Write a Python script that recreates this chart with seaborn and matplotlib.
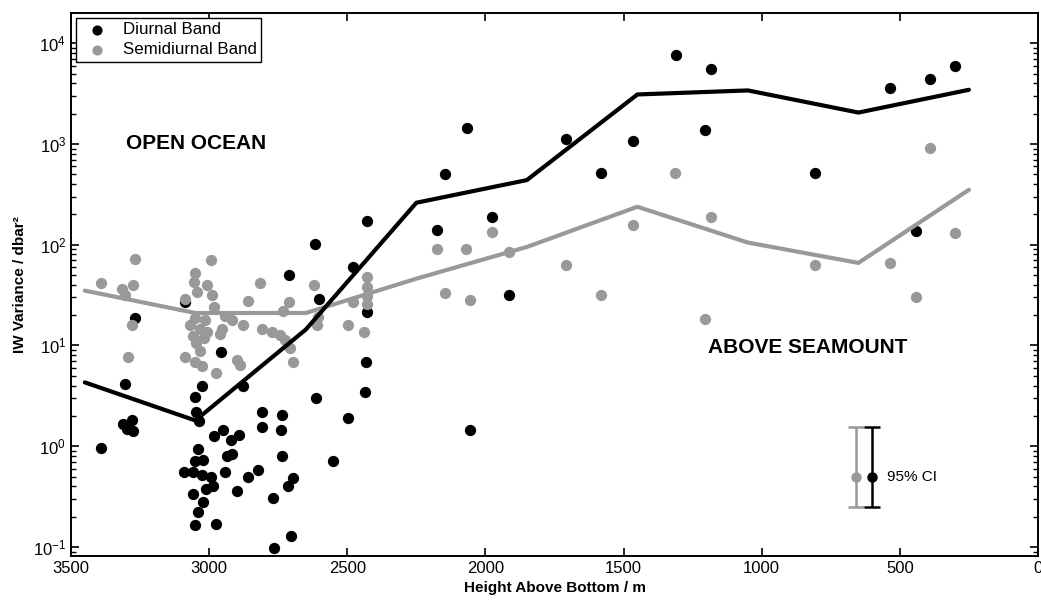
import matplotlib
matplotlib.use("Agg")
import matplotlib.pyplot as plt
import matplotlib.ticker as mticker
import seaborn as sns
import pandas as pd

# Diurnal band variance vs. height above bottom
diurnal_height = [3392, 3312, 3279, 3298, 3276, 3305, 3269, 3088, 3052, 3048,
                  3037, 3027, 2958, 2878, 2983, 2950, 2893, 2922, 3041, 2936,
                  2918, 3052, 3023, 3092, 3059, 3027, 2994, 2943, 2860, 2824,
                  2987, 3012, 3059, 2900, 3023, 3041, 3052, 2976, 2810, 2810,
                  2737, 2741, 2737, 2697, 2715, 2770, 2705, 2766, 2712, 2618,
                  2603, 2614, 2480, 2499, 2553, 2430, 2430, 2434, 2437, 2177,
                  2148, 2068, 1978, 1913, 2057, 1707, 1580, 1465, 1309, 1183,
                  1204, 807, 535, 391, 300, 441]
diurnal_var = [0.95, 1.65, 1.8, 1.47, 1.4, 4.1, 18.9, 26.7, 3.1, 2.17,
               1.77, 3.93, 8.7, 3.93, 1.26, 1.44, 1.28, 1.15, 0.93, 0.80,
               0.83, 0.71, 0.73, 0.55, 0.56, 0.52, 0.49, 0.55, 0.49, 0.58,
               0.40, 0.375, 0.335, 0.36, 0.28, 0.22, 0.165, 0.17, 2.17, 1.54,
               2.03, 1.44, 0.80, 0.48, 0.40, 0.305, 0.128, 0.098, 50, 102,
               29, 3.0, 60, 1.89, 0.71, 173, 21.7, 6.8, 3.43, 141,
               505, 1440, 189, 32, 1.44, 1120, 516, 1070, 7600, 5530,
               1377, 516, 3580, 4400, 5900, 138]

# Semidiurnal band variance vs. height above bottom
semi_height = [3269, 3392, 3316, 3276, 3305, 3279, 3294, 2994, 3052, 3056,
               3008, 2817, 3044, 2990, 3088, 2860, 2983, 2734, 3052, 3016,
               3070, 3034, 3008, 3059, 3019, 3048, 2943, 2918, 2954, 2961,
               2878, 2810, 2773, 2745, 2727, 3088, 3034, 3052, 3027, 2900,
               2889, 2976, 2712, 2708, 2697, 2621, 2611, 2605, 2430, 2430,
               2430, 2430, 2480, 2499, 2441, 2177, 2072, 1978, 1913, 2148,
               2057, 1707, 1580, 1465, 1313, 1183, 1204, 807, 535, 441,
               391, 300]
semi_var = [72.6, 42, 36.7, 40, 32, 15.8, 7.6, 71, 52.9, 43,
            40, 41.7, 34, 32, 29, 27.9, 24.3, 22, 18.9, 18,
            16, 14.5, 13.5, 12.3, 11.8, 10.6, 19.4, 18, 14.4, 12.9,
            16.1, 14.7, 13.5, 12.6, 11.3, 7.6, 8.9, 6.9, 6.3, 7.1,
            6.4, 5.3, 27, 9.4, 6.9, 40, 15.8, 19, 48, 38,
            31, 26, 26.7, 15.8, 13.5, 91, 91, 135, 85, 33.5,
            28, 63, 32, 158, 516, 189, 18.1, 63, 66, 30,
            912, 131]

# Bin-averaged curves
bin_height = [3450, 3050, 2650, 2250, 1850, 1450, 1050, 650, 250]
diurnal_mean = [4.3, 1.8, 14.4, 261, 438, 3100, 3400, 2050, 3450]
semi_mean = [35, 21, 21, 46, 95, 238, 105, 66, 351]

# 95% confidence interval marker
ci_height = [658, 600]
ci_center = [0.5, 0.5]
ci_low = [0.25, 0.25]
ci_high = [1.54, 1.54]

xticks = [3500, 3000, 2500, 2000, 1500, 1000, 500, 0]

BLACK = "#000000"
GRAY = "#999999"

sns.set_style("ticks")
plt.rcParams.update({
    "font.family": ["Liberation Sans", "DejaVu Sans"],
    "mathtext.fontset": "custom",
    "mathtext.rm": "Liberation Sans",
    "mathtext.it": "Liberation Sans:italic",
    "mathtext.bf": "Liberation Sans:bold",
    "text.color": "black",
    "axes.labelcolor": "black",
    "axes.edgecolor": "black",
    "xtick.color": "black",
    "ytick.color": "black",
    "axes.linewidth": 1.4,
    "xtick.direction": "in",
    "ytick.direction": "in",
    "xtick.top": True,
    "ytick.right": True,
    "xtick.major.size": 6,
    "ytick.major.size": 6,
    "ytick.minor.size": 3.5,
    "xtick.major.width": 1.2,
    "ytick.major.width": 1.2,
    "ytick.minor.width": 1.0,
    "xtick.labelsize": 12,
    "ytick.labelsize": 12,
})

fig = plt.figure(figsize=(10.41, 6.01), dpi=100)
ax = fig.add_axes([71 / 1041, 1 - 556 / 601, (1038 - 71) / 1041, (556 - 13) / 601])

d_df = pd.DataFrame({"h": diurnal_height, "v": diurnal_var})
s_df = pd.DataFrame({"h": semi_height, "v": semi_var})
sns.scatterplot(data=d_df, x="h", y="v", color=BLACK, s=66, linewidth=0,
                ax=ax, label="Diurnal Band", zorder=3)
sns.scatterplot(data=s_df, x="h", y="v", color=GRAY, s=66, linewidth=0,
                ax=ax, label="Semidiurnal Band", zorder=3)

sns.lineplot(x=bin_height, y=semi_mean, color=GRAY, lw=3, sort=False,
             estimator=None, ax=ax, zorder=4, legend=False)
sns.lineplot(x=bin_height, y=diurnal_mean, color=BLACK, lw=3, sort=False,
             estimator=None, ax=ax, zorder=5, legend=False)

for h, c, lo, hi, col in zip(ci_height, ci_center, ci_low, ci_high, [GRAY, BLACK]):
    ax.errorbar([h], [c], yerr=[[c - lo], [hi - c]], fmt="o", color=col,
                ms=6.5, lw=1.8, capsize=6, capthick=1.8, zorder=6)
ax.text(546, 0.5, "95% CI", fontsize=11, va="center", ha="left")

ax.text(3301, 1000, "OPEN OCEAN", fontsize=15, fontweight="bold",
        va="center", ha="left")
ax.text(1193, 9.6, "ABOVE SEAMOUNT", fontsize=15, fontweight="bold",
        va="center", ha="left")

ax.set_yscale("log")
ax.set_xlim(3500, 0)
ax.set_ylim(10 ** -1.09, 10 ** 4.30)
ax.set_xticks(xticks)
ax.set_yticks([0.1, 1, 10, 100, 1000, 10000])
ax.yaxis.set_minor_locator(mticker.LogLocator(base=10, subs=range(2, 10), numticks=20))
ax.yaxis.set_minor_formatter(mticker.NullFormatter())
ax.xaxis.set_minor_locator(mticker.NullLocator())

ax.set_xlabel("Height Above Bottom / m", fontsize=11, fontweight="bold", labelpad=4)
ax.set_ylabel("IW Variance / dbar²", fontsize=11, fontweight="bold", labelpad=4)

leg = ax.legend(loc="upper left", fontsize=12.2, frameon=True, fancybox=False,
                edgecolor="black", framealpha=1, borderaxespad=0.3,
                handletextpad=0.5, borderpad=0.25, labelspacing=0.3,
                handlelength=2.0, markerscale=0.9)
leg.get_frame().set_linewidth(1.0)

fig.savefig("out.png", dpi=100)
